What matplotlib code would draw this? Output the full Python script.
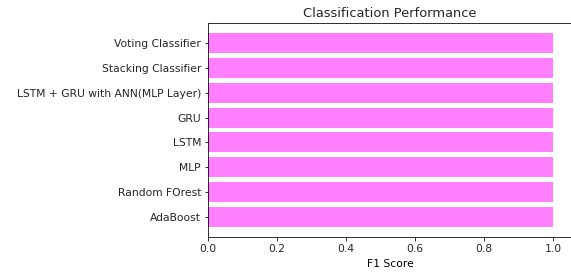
import matplotlib
matplotlib.use("Agg")
import matplotlib.pyplot as plt

models = ["AdaBoost", "Random FOrest", "MLP", "LSTM", "GRU",
          "LSTM + GRU with ANN(MLP Layer)", "Stacking Classifier", "Voting Classifier"]
f1_scores = [1.0, 1.0, 1.0, 1.0, 1.0, 1.0, 1.0, 1.0]

plt.rcParams["font.size"] = 10.8
plt.rcParams["text.color"] = "#262626"
plt.rcParams["xtick.labelcolor"] = "#262626"
plt.rcParams["ytick.labelcolor"] = "#262626"

fig = plt.figure(figsize=(571 / 72, 272 / 72), dpi=72)
ax = fig.add_axes([208 / 571, 1 - 237 / 272, 364 / 571, 214 / 272])
ax.barh(models, f1_scores, color="magenta", alpha=0.5)
ax.set_xlim(0, 1.055)
ax.spines["right"].set_visible(False)  # cut off in the original image
ax.set_title("Classification Performance")
ax.set_xlabel("F1 Score", labelpad=5)

fig.savefig("out.png", dpi=72)
